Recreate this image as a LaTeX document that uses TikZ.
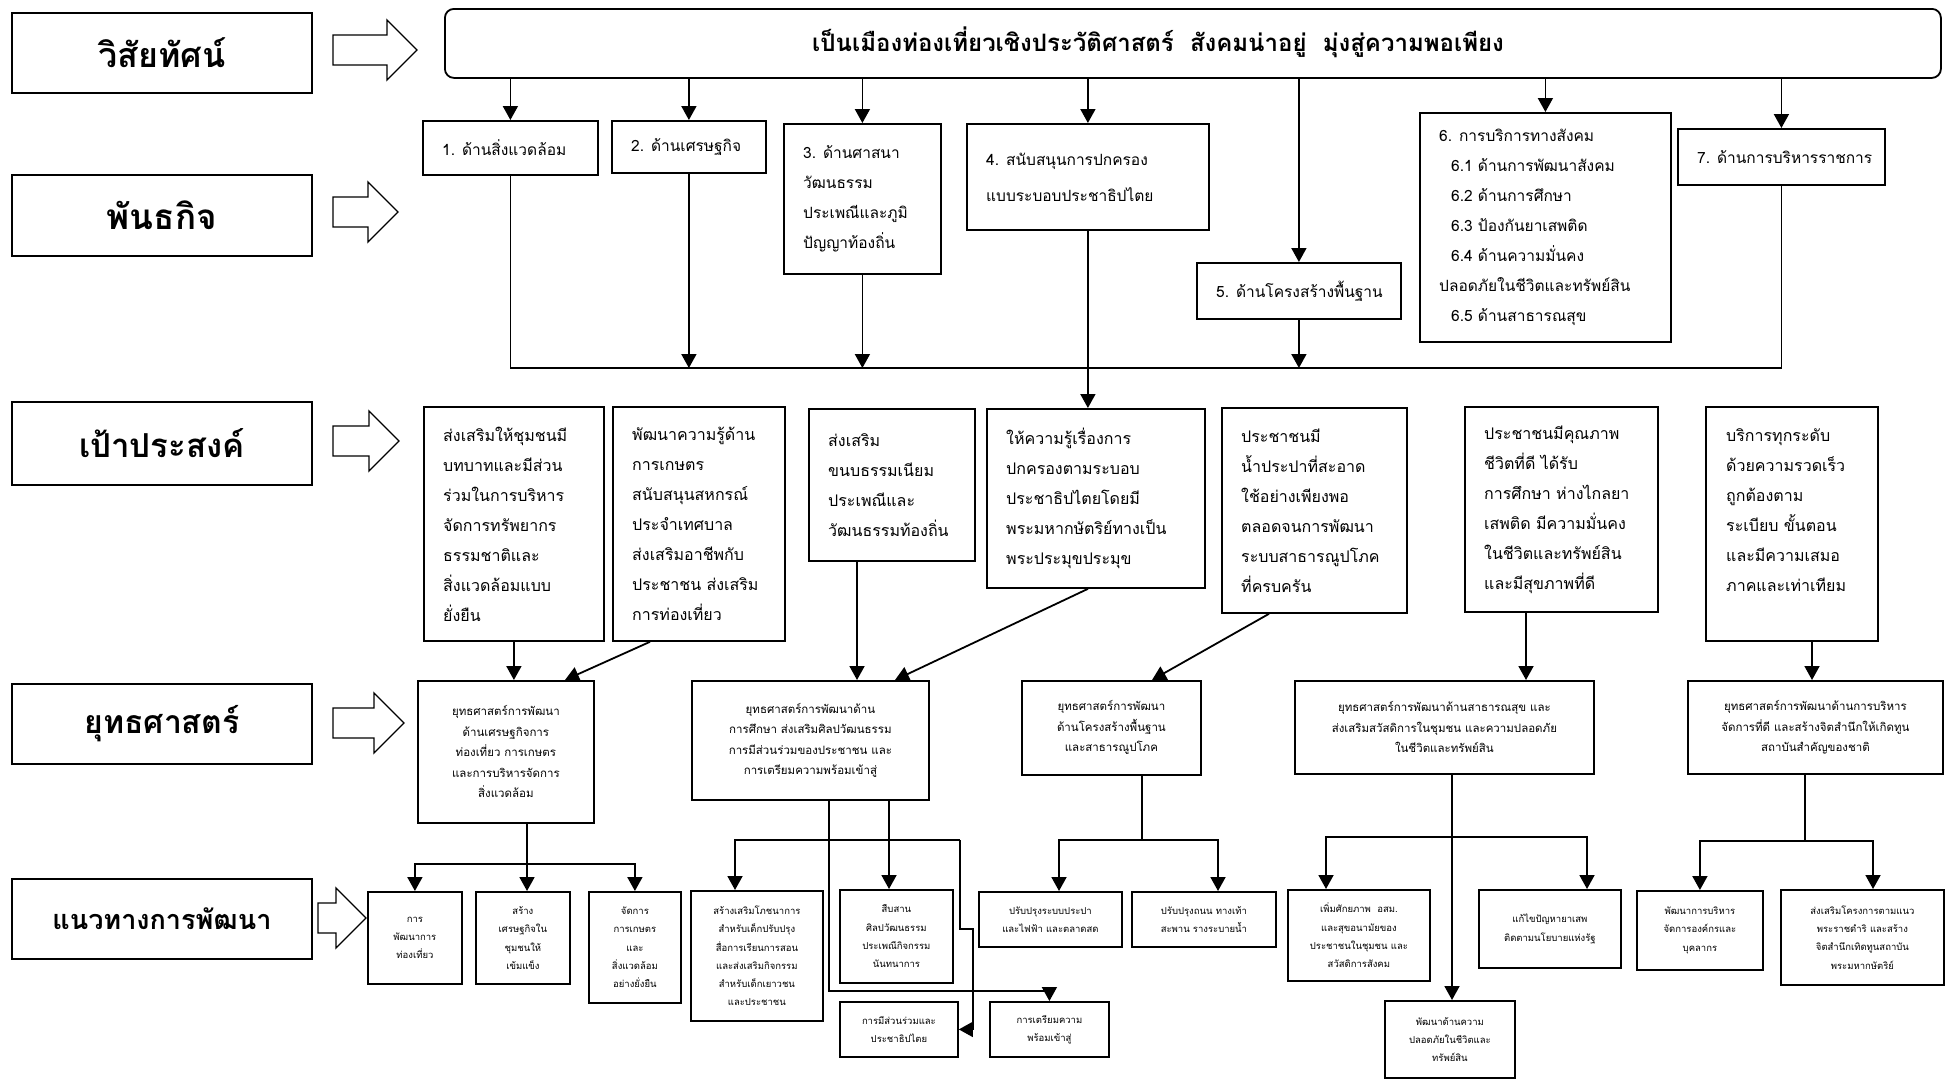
\documentclass[tikz,border=0pt]{standalone}
\usepackage{fontspec}
\newfontfamily\thai[Script=Thai]{Loma}
\usetikzlibrary{arrows.meta,calc}
\newcommand\fl[1]{\thai\bfseries\fontsize{#1}{#1}\selectfont}
\newcommand\fv{\thai\bfseries\fontsize{24}{28}\selectfont}
\newcommand\fm{\thai\fontsize{15.5}{30}\selectfont}
\newcommand\fg{\thai\fontsize{16}{30}\selectfont}
\newcommand\fs{\thai\fontsize{11.5}{20.5}\selectfont}
\newcommand\fd{\thai\fontsize{9.5}{18.3}\selectfont}
\newcommand\bx[6][]{\node[frame,#1,anchor=north west,minimum width={(#4-#2)*1pt},minimum height={(#5-#3)*1pt}] (#6) at (#2,#3) {};}
\newcommand\tleft[3]{\node[anchor=west,align=left,inner sep=0pt,font=#2] (#1-t) at ([xshift=20pt]#1.west) {#3};}
\newcommand\tcent[3]{\node[align=center,inner sep=0pt,font=#2] (#1-t) at (#1.center) {#3};}
\newcommand\barr[3]{\draw[blockarr] (#1,#3-15) -- (#2-30,#3-15) -- (#2-30,#3-30) -- (#2,#3) -- (#2-30,#3+30) -- (#2-30,#3+15) -- (#1,#3+15) -- cycle;}
\begin{document}
\begin{tikzpicture}[x=1pt,y=-1pt,
 frame/.style={draw,line width=1.8pt,inner sep=0pt},
 ln/.style={line width=1.8pt},
 arr/.style={line width=1.8pt,-{Triangle[length=14pt,width=15pt]}},
 blockarr/.style={draw,line width=1.3pt,fill=white,line join=miter}]
\fill[white] (0,0) rectangle (1950,1079);
\useasboundingbox (0,0) rectangle (1950,1079);
% row labels
\bx{11}{12}{311}{92}{L1}\tcent{L1}{\fl{34}}{วิสัยทัศน์}
\bx{11}{174}{311}{255}{L2}\tcent{L2}{\fl{35}}{พันธกิจ}
\bx{11}{401}{311}{484}{L3}\tcent{L3}{\fl{33}}{เป้าประสงค์}
\bx{11}{683}{311}{763}{L4}\tcent{L4}{\fl{32}}{ยุทธศาสตร์}
\bx{11}{878}{311}{958}{L5}\tcent{L5}{\fl{27}}{แนวทางการพัฒนา}
\barr{333}{417}{50}
\barr{333}{398}{212}
\barr{333}{399}{441}
\barr{333}{404}{723}
\barr{318}{366}{918}
% vision
\bx[rounded corners=9pt]{444}{8}{1940}{77}{vis}
\node[font=\fv,inner sep=0pt] (vis-t) at (1158,42) {เป็นเมืองท่องเที่ยวเชิงประวัติศาสตร์~~สังคมน่าอยู่~~มุ่งสู่ความพอเพียง};
% missions
\bx{422}{120}{597}{174}{m1}\tleft{m1}{\fm}{1. ด้านสิ่งแวดล้อม}
\bx{611}{120}{765}{172}{m2}\tleft{m2}{\fm}{2. ด้านเศรษฐกิจ}
\bx{783}{123}{940}{273}{m3}\tleft{m3}{\fm}{3. ด้านศาสนา\\วัฒนธรรม\\ประเพณีและภูมิ\\ปัญญาท้องถิ่น}
\bx{966}{123}{1208}{229}{m4}\tleft{m4}{\thai\fontsize{15.5}{36}\selectfont}{4. สนับสนุนการปกครอง\\แบบระบอบประชาธิปไตย}
\bx{1196}{262}{1400}{318}{m5}\tleft{m5}{\fm}{5. ด้านโครงสร้างพื้นฐาน}
\bx{1419}{112}{1670}{341}{m6}\tleft{m6}{\fm}{6. การบริการทางสังคม\\\hspace*{12pt}6.1 ด้านการพัฒนาสังคม\\\hspace*{12pt}6.2 ด้านการศึกษา\\\hspace*{12pt}6.3 ป้องกันยาเสพติด\\\hspace*{12pt}6.4 ด้านความมั่นคง\\ปลอดภัยในชีวิตและทรัพย์สิน\\\hspace*{12pt}6.5 ด้านสาธารณสุข}
\bx{1677}{128}{1884}{184}{m7}\tleft{m7}{\fm}{7. ด้านการบริหารราชการ}
% goals
\bx{423}{406}{603}{640}{g1}\tleft{g1}{\fg}{ส่งเสริมให้ชุมชนมี\\บทบาทและมีส่วน\\ร่วมในการบริหาร\\จัดการทรัพยากร\\ธรรมชาติและ\\สิ่งแวดล้อมแบบ\\ยั่งยืน}
\bx{612}{406}{784}{640}{g2}\tleft{g2}{\fg}{พัฒนาความรู้ด้าน\\การเกษตร\\สนับสนุนสหกรณ์\\ประจำเทศบาล\\ส่งเสริมอาชีพกับ\\ประชาชน ส่งเสริม\\การท่องเที่ยว}
\bx{808}{408}{974}{560}{g3}\tleft{g3}{\fg}{ส่งเสริม\\ขนบธรรมเนียม\\ประเพณีและ\\วัฒนธรรมท้องถิ่น}
\bx{986}{408}{1204}{587}{g4}\tleft{g4}{\fg}{ให้ความรู้เรื่องการ\\ปกครองตามระบอบ\\ประชาธิปไตยโดยมี\\พระมหากษัตริย์ทางเป็น\\พระประมุขประมุข}
\bx{1221}{407}{1406}{612}{g5}\tleft{g5}{\fg}{ประชาชนมี\\น้ำประปาที่สะอาด\\ใช้อย่างเพียงพอ\\ตลอดจนการพัฒนา\\ระบบสาธารณูปโภค\\ที่ครบครัน}
\bx{1464}{406}{1657}{611}{g6}\tleft{g6}{\fg}{ประชาชนมีคุณภาพ\\ชีวิตที่ดี ได้รับ\\การศึกษา ห่างไกลยา\\เสพติด มีความมั่นคง\\ในชีวิตและทรัพย์สิน\\และมีสุขภาพที่ดี}
\bx{1705}{406}{1877}{640}{g7}\node[anchor=north west,align=left,inner sep=0pt,font=\fg] (g7-t) at (1726,428) {บริการทุกระดับ\\ด้วยความรวดเร็ว\\ถูกต้องตาม\\ระเบียบ ขั้นตอน\\และมีความเสมอ\\ภาคและเท่าเทียม};
% strategies
\bx{417}{680}{593}{822}{s1}\tcent{s1}{\fs}{ยุทธศาสตร์การพัฒนา\\ด้านเศรษฐกิจการ\\ท่องเที่ยว การเกษตร\\และการบริหารจัดการ\\สิ่งแวดล้อม}
\bx{691}{680}{928}{799}{s2}\tcent{s2}{\fs}{ยุทธศาสตร์การพัฒนาด้าน\\การศึกษา ส่งเสริมศิลปวัฒนธรรม\\การมีส่วนร่วมของประชาชน และ\\การเตรียมความพร้อมเข้าสู่}
\bx{1021}{680}{1200}{774}{s3}\tcent{s3}{\fs}{ยุทธศาสตร์การพัฒนา\\ด้านโครงสร้างพื้นฐาน\\และสาธารณูปโภค}
\bx{1294}{680}{1593}{773}{s4}\tcent{s4}{\fs}{ยุทธศาสตร์การพัฒนาด้านสาธารณสุข และ\\ส่งเสริมสวัสดิการในชุมชน และความปลอดภัย\\ในชีวิตและทรัพย์สิน}
\bx{1687}{680}{1942}{773}{s5}\tcent{s5}{\fs}{ยุทธศาสตร์การพัฒนาด้านการบริหาร\\จัดการที่ดี และสร้างจิตสำนึกให้เกิดทูน\\สถาบันสำคัญของชาติ}
% development
\bx{367}{891}{461}{983}{d1}\tcent{d1}{\fd}{การ\\พัฒนาการ\\ท่องเที่ยว}
\bx{475}{891}{569}{983}{d2}\tcent{d2}{\fd}{สร้าง\\เศรษฐกิจใน\\ชุมชนให้\\เข้มแข็ง}
\bx{588}{891}{680}{1002}{d3}\tcent{d3}{\fd}{จัดการ\\การเกษตร\\และ\\สิ่งแวดล้อม\\อย่างยั่งยืน}
\bx{690}{890}{822}{1020}{d4}\tcent{d4}{\fd}{สร้างเสริมโภชนาการ\\สำหรับเด็กปรับปรุง\\สื่อการเรียนการสอน\\และส่งเสริมกิจกรรม\\สำหรับเด็กเยาวชน\\และประชาชน}
\bx{839}{889}{952}{982}{d5}\tcent{d5}{\fd}{สืบสาน\\ศิลปวัฒนธรรม\\ประเพณีกิจกรรม\\นันทนาการ}
\bx{839}{1001}{957}{1056}{d6}\tcent{d6}{\fd}{การมีส่วนร่วมและ\\ประชาธิปไตย}
\bx{989}{1001}{1108}{1056}{d6b}\tcent{d6b}{\fd}{การเตรียมความ\\พร้อมเข้าสู่}
\bx{978}{891}{1121}{946}{d7}\tcent{d7}{\fd}{ปรับปรุงระบบประปา\\และไฟฟ้า และตลาดสด}
\bx{1131}{891}{1275}{946}{d8}\tcent{d8}{\fd}{ปรับปรุงถนน ทางเท้า\\สะพาน รางระบายน้ำ}
\bx{1287}{889}{1429}{980}{d9}\tcent{d9}{\fd}{เพิ่มศักยภาพ~~อสม.\\และสุขอนามัยของ\\ประชาชนในชุมชน และ\\สวัสดิการสังคม}
\bx{1478}{889}{1620}{967}{d10}\tcent{d10}{\fd}{แก้ไขปัญหายาเสพ\\ติดตามนโยบายแห่งรัฐ}
\bx{1384}{1000}{1514}{1077}{d11}\tcent{d11}{\fd}{พัฒนาด้านความ\\ปลอดภัยในชีวิตและ\\ทรัพย์สิน}
\bx{1636}{890}{1762}{969}{d12}\tcent{d12}{\fd}{พัฒนาการบริหาร\\จัดการองค์กรและ\\บุคลากร}
\bx{1780}{889}{1943}{984}{d13}\tcent{d13}{\fd}{ส่งเสริมโครงการตามแนว\\พระราชดำริ และสร้าง\\จิตสำนึกเทิดทูนสถาบัน\\พระมหากษัตริย์}
% vision -> missions
\foreach \m in {m1,m2,m3,m4,m5,m6,m7} \draw[arr] (vis.south -| \m.north) -- (\m.north);
% mission bus
\coordinate (hl) at (0,368);
\draw[ln] (m1.south) -- (m1.south |- hl) -- (m7.south |- hl) -- (m7.south);
\foreach \m in {m2,m3,m5} \draw[arr] (\m.south) -- (\m.south |- hl);
\draw[arr] (m4.south) -- (m4.south |- g4.north);
% goals -> strategies
\draw[arr] (g1.south) -- (g1.south |- s1.north);
\draw[arr] ($(g2.south west)+(38,0)$) -- ($(s1.north west)+(148,0)$);
\draw[arr] ($(g3.south west)+(49,0)$) -- ($(s2.north west)+(166,0)$);
\draw[arr] ($(g4.south west)+(102,0)$) -- ($(s2.north west)+(204,0)$);
\draw[arr] ($(g5.south west)+(48,0)$) -- ($(s3.north west)+(131,0)$);
\draw[arr] ($(g6.south west)+(62,0)$) -- ($(s4.north west)+(232,0)$);
\draw[arr] ($(g7.south west)+(107,0)$) -- ($(s5.north west)+(125,0)$);
% strategy 1
\coordinate (b1) at (527,864);
\draw[arr] (s1.south -| b1) -- (d2.north -| b1);
\draw[arr] (b1) -| (d1.north);
\draw[arr] (b1) -| (d3.north);
% strategy 2
\coordinate (a1) at (829,991);
\coordinate (a2) at (889,840);
\coordinate (a3) at (735,840);
\coordinate (a4) at (960,840);
\coordinate (a5) at (973,929);
\draw[arr] (s2.south -| a1) -- (a1) -| (d6b.north);
\draw[arr] (s2.south -| a2) -- (d5.north -| a2);
\draw[arr] (a4) -- (a3) -- (d4.north -| a3);
\draw[arr] (a4) -- (a4 |- a5) -- (a5) |- (d6.east);
% strategy 3
\coordinate (b3) at (1142,840);
\draw[ln] (s3.south -| b3) -- (b3);
\draw[arr] (b3) -| ($(d7.north west)+(81,0)$);
\draw[arr] (b3) -| ($(d8.north west)+(87,0)$);
% strategy 4
\coordinate (b4) at (1452,837);
\draw[arr] (s4.south -| b4) -- (d11.north -| b4);
\draw[arr] (b4) -| ($(d9.north west)+(39,0)$);
\draw[arr] (b4) -| ($(d10.north west)+(109,0)$);
% strategy 5
\coordinate (b5) at (1805,841);
\draw[ln] (s5.south -| b5) -- (b5);
\draw[arr] (b5) -| (d12.north);
\draw[arr] (b5) -| ($(d13.north west)+(93,0)$);
\end{tikzpicture}
\end{document}
